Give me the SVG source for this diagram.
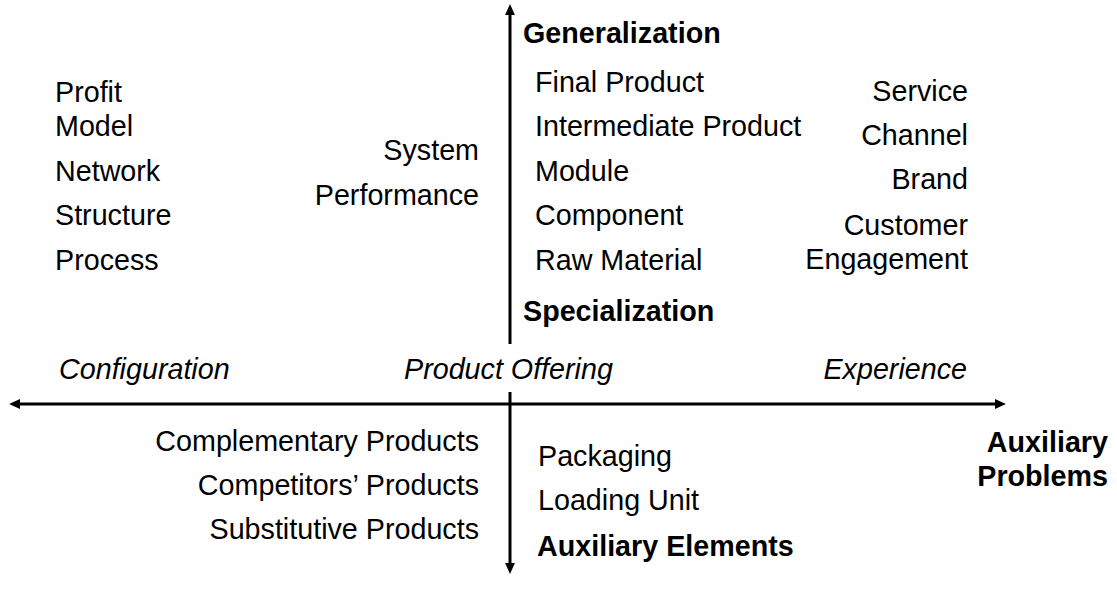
<svg xmlns="http://www.w3.org/2000/svg" width="1117" height="589" viewBox="0 0 1117 589">
<style>
text{font-family:"Liberation Sans",Arial,sans-serif;font-size:28.7px;fill:#000}
.b{font-weight:bold}
.i{font-style:italic}
.r{text-anchor:end}
.axis{stroke:#000;stroke-width:3;fill:none}
</style>
<defs>
<marker id="ah" markerUnits="userSpaceOnUse" markerWidth="12" markerHeight="12" viewBox="0 -5 11 10" refX="0" refY="0" orient="auto-start-reverse">
<path d="M0,-4.5 L10,0 L0,4.5 Z" fill="#000"/>
</marker>
</defs>
<rect width="1117" height="589" fill="#fff"/>
<g id="connectors">
<line class="axis" x1="510" y1="344" x2="510" y2="15" marker-end="url(#ah)"/>
<line class="axis" x1="510" y1="392" x2="510" y2="563" marker-end="url(#ah)"/>
<line class="axis" x1="20" y1="404" x2="995" y2="404" marker-start="url(#ah)" marker-end="url(#ah)"/>
</g>
<g id="configuration-items">
<text x="55" y="102">Profit</text>
<text x="55" y="136">Model</text>
<text x="55" y="181">Network</text>
<text x="55" y="225">Structure</text>
<text x="55" y="270">Process</text>
</g>
<g id="system-performance">
<text class="r" x="479" y="160">System</text>
<text class="r" x="479" y="205">Performance</text>
</g>
<g id="product-hierarchy">
<text class="b" x="523" y="43">Generalization</text>
<text x="535" y="92">Final Product</text>
<text x="535" y="136">Intermediate Product</text>
<text x="535" y="181">Module</text>
<text x="535" y="225">Component</text>
<text x="535" y="270">Raw Material</text>
<text class="b" x="523" y="321">Specialization</text>
</g>
<g id="experience-items">
<text class="r" x="968" y="101">Service</text>
<text class="r" x="968" y="145">Channel</text>
<text class="r" x="968" y="189">Brand</text>
<text class="r" x="968" y="235">Customer</text>
<text class="r" x="968" y="269">Engagement</text>
</g>
<g id="axis-labels">
<text class="i" x="59" y="379">Configuration</text>
<text class="i" x="404" y="379">Product Offering</text>
<text class="i r" x="967" y="379">Experience</text>
</g>
<g id="auxiliary-problems">
<text class="r" x="479" y="451">Complementary Products</text>
<text class="r" x="479" y="495">Competitors’ Products</text>
<text class="r" x="479" y="539">Substitutive Products</text>
<text class="b r" x="1108" y="452">Auxiliary</text>
<text class="b r" x="1108" y="486">Problems</text>
</g>
<g id="auxiliary-elements">
<text x="538" y="466">Packaging</text>
<text x="538" y="510">Loading Unit</text>
<text class="b" x="537" y="556">Auxiliary Elements</text>
</g>
</svg>
